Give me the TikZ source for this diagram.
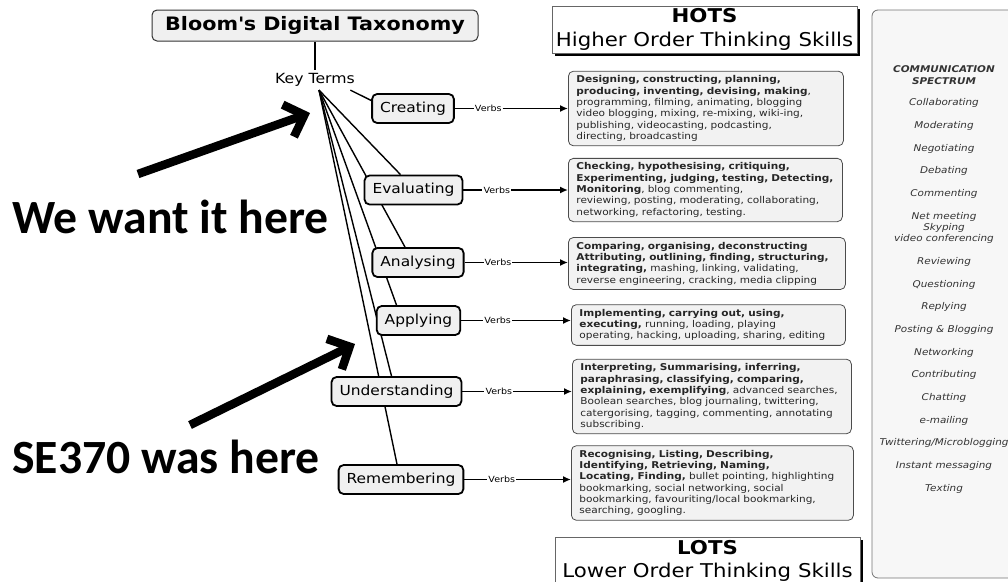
\documentclass[tikz,border=0pt]{standalone}
\usepackage{fontspec}
\setmainfont{DejaVu Sans}[FakeStretch=1.12]
\newfontfamily\notefont{Carlito}
\usetikzlibrary{positioning,arrows.meta,backgrounds,shadows}

\begin{document}
\begin{tikzpicture}[x=1pt,y=-1pt,
  catbox/.style={draw,line width=1.8pt,fill=black!6,rounded corners=5pt,inner xsep=8pt,minimum height=29pt,font=\fontsize{13.8}{16}\selectfont},
  verbbox/.style={draw=black!70,line width=0.8pt,fill=black!5,rounded corners=5pt,inner xsep=8pt,inner ysep=4.5pt,align=left,anchor=west,text=black!85,font=\fontsize{9.4}{11.3}\selectfont},
  verblabel/.style={inner sep=1pt,font=\fontsize{8.5}{10}\selectfont},
  link/.style={line width=1.6pt},
  skill/.style={align=center,text=black!80,font=\fontsize{9.3}{11.3}\selectfont\itshape},
  levelbox/.style={draw=black!60,fill=white,align=center,minimum width=305pt,minimum height=45pt,inner sep=3pt,font=\fontsize{19}{23.5}\selectfont,drop shadow={shadow xshift=3pt,shadow yshift=-3pt,fill=black,opacity=1}},
  note/.style={anchor=base west,inner sep=0pt,font=\notefont\bfseries\fontsize{47.7}{52}\selectfont},
  bigarrow/.style={line width=8.5pt,-{Straight Barb[length=17pt,width=34pt]}}]
  \useasboundingbox (0,0) rectangle (1008,581);
  \clip (0,0) rectangle (1008,581);

  \draw[draw=black!55,fill=black!3,rounded corners=6pt,line width=0.8pt] (872,10) rectangle (1030,578);
  \node[skill,font=\fontsize{9.3}{12}\selectfont\bfseries\itshape] (S0) at (944,75) {COMMUNICATION\\SPECTRUM};
  \node[skill] (S1) at (944,103) {Collaborating};
  \node[skill] (S2) at (944,126) {Moderating};
  \node[skill] (S3) at (944,149) {Negotiating};
  \node[skill] (S4) at (944,171) {Debating};
  \node[skill] (S5) at (944,194) {Commenting};
  \node[skill] (S6) at (944,228) {Net meeting\\Skyping\\video conferencing};
  \node[skill] (S7) at (944,262) {Reviewing};
  \node[skill] (S8) at (944,285) {Questioning};
  \node[skill] (S9) at (944,307) {Replying};
  \node[skill] (S10) at (944,330) {Posting \& Blogging};
  \node[skill] (S11) at (944,353) {Networking};
  \node[skill] (S12) at (944,375) {Contributing};
  \node[skill] (S13) at (944,398) {Chatting};
  \node[skill] (S14) at (944,421) {e-mailing};
  \node[skill] (S15) at (944,443) {Twittering/Microblogging};
  \node[skill] (S16) at (944,466) {Instant messaging};
  \node[skill] (S17) at (944,489) {Texting};

  \node[levelbox] (H) at (704.5,29.5) {\textbf{HOTS}\\Higher Order Thinking Skills};
  \node[levelbox,anchor=north] (O) at (707.5,537) {\textbf{LOTS}\\Lower Order Thinking Skills};

  \node[draw=black!80,fill=black!6,rounded corners=5pt,line width=1pt,minimum width=326pt,minimum height=31pt,font=\fontsize{18.5}{22}\selectfont\bfseries] (T) at (315,25.5) {Bloom\textquotesingle s Digital Taxonomy};
  \node[font=\fontsize{14}{16}\selectfont] (K) at (315,80) {Key Terms};
  \draw[line width=1.4pt] (T) -- (K);

  \node[catbox] (C1) at (413,108.5) {Creating};
  \node[catbox] (C2) at (413.5,190) {Evaluating};
  \node[catbox] (C3) at (418,262.5) {Analysing};
  \node[catbox] (C4) at (418.5,320.5) {Applying};
  \node[catbox] (C5) at (396.5,391.5) {Understanding};
  \node[catbox] (C6) at (401,479.5) {Remembering};

  \node[verblabel,right=19pt of C1] (L1) {Verbs};
  \node[verblabel,right=19pt of C2] (L2) {Verbs};
  \node[verblabel,right=19pt of C3] (L3) {Verbs};
  \node[verblabel,right=22pt of C4] (L4) {Verbs};
  \node[verblabel,right=22pt of C5] (L5) {Verbs};
  \node[verblabel,right=23pt of C6] (L6) {Verbs};

  \node[verbbox,text width=259pt] (B1) at (568,108.5) {\textbf{Designing, constructing, planning,}\\\textbf{producing, inventing, devising, making},\\programming, filming, animating, blogging\\video blogging, mixing, re-mixing, wiki-ing,\\publishing, videocasting, podcasting,\\directing, broadcasting};
  \node[verbbox,text width=258pt] (B2) at (568,190) {\textbf{Checking, hypothesising, critiquing,}\\\textbf{Experimenting, judging, testing, Detecting,}\\\textbf{Monitoring}, blog commenting,\\reviewing, posting, moderating, collaborating,\\networking, refactoring, testing.};
  \node[verbbox,text width=261pt] (B3) at (568,263.5) {\textbf{Comparing, organising, deconstructing}\\\textbf{Attributing, outlining, finding, structuring,}\\\textbf{integrating,} mashing, linking, validating,\\reverse engineering, cracking, media clipping};
  \node[verbbox,text width=258pt] (B4) at (571,325) {\textbf{Implementing, carrying out, using,}\\\textbf{executing,} running, loading, playing\\operating, hacking, uploading, sharing, editing};
  \node[verbbox,text width=263pt] (B5) at (572,396.5) {\textbf{Interpreting, Summarising, inferring,}\\\textbf{paraphrasing, classifying, comparing,}\\\textbf{explaining, exemplifying}, advanced searches,\\Boolean searches, blog journaling, twittering,\\catergorising, tagging, commenting, annotating\\subscribing.};
  \node[verbbox,text width=266pt] (B6) at (571,483) {\textbf{Recognising, Listing, Describing,}\\\textbf{Identifying, Retrieving, Naming,}\\\textbf{Locating, Finding,} bullet pointing, highlighting\\bookmarking, social networking, social\\bookmarking, favouriting/local bookmarking,\\searching, googling.};

  \draw[link] (C1) -- (L1);
  \draw[link,-{Latex[length=8pt,width=7pt]}] (L1) -- (L1 -| B1.west);
  \draw[link] (C2) -- (L2);
  \draw[link,-{Latex[length=8pt,width=7pt]}] (L2) -- (L2 -| B2.west);
  \draw[link] (C3) -- (L3);
  \draw[link,-{Latex[length=8pt,width=7pt]}] (L3) -- (L3 -| B3.west);
  \draw[link] (C4) -- (L4);
  \draw[link,-{Latex[length=8pt,width=7pt]}] (L4) -- (L4 -| B4.west);
  \draw[link] (C5) -- (L5);
  \draw[link,-{Latex[length=8pt,width=7pt]}] (L5) -- (L5 -| B5.west);
  \draw[link] (C6) -- (L6);
  \draw[link,-{Latex[length=8pt,width=7pt]}] (L6) -- (L6 -| B6.west);

  \begin{scope}[on background layer]
    \draw[line width=1.4pt] ([xshift=-8pt]K.south east) -- ([yshift=8pt]C1.west);
    \draw[line width=1.4pt] ([xshift=4pt]K.south) -- ([xshift=-13pt]C2.north);
    \draw[line width=1.4pt] ([xshift=4pt]K.south) -- ([xshift=-13pt]C3.north);
    \draw[line width=1.4pt] ([xshift=4pt]K.south) -- ([xshift=-22pt]C4.north);
    \draw[line width=1.4pt] ([xshift=4pt]K.south) -- ([xshift=-5pt]C5.north);
    \draw[line width=1.4pt] ([xshift=4pt]K.south) -- ([xshift=-4pt]C6.north);
  \end{scope}

  \node[note] (W) at (12,233) {We want it here};
  \node[note] (N) at (12,473) {SE370 was here};
  \coordinate (A1) at (138,174);
  \coordinate (A2) at (310,113);
  \coordinate (A3) at (190,425);
  \coordinate (A4) at (355,344);
  \draw[bigarrow] (A1) -- (A2);
  \draw[bigarrow] (A3) -- (A4);
\end{tikzpicture}
\end{document}
